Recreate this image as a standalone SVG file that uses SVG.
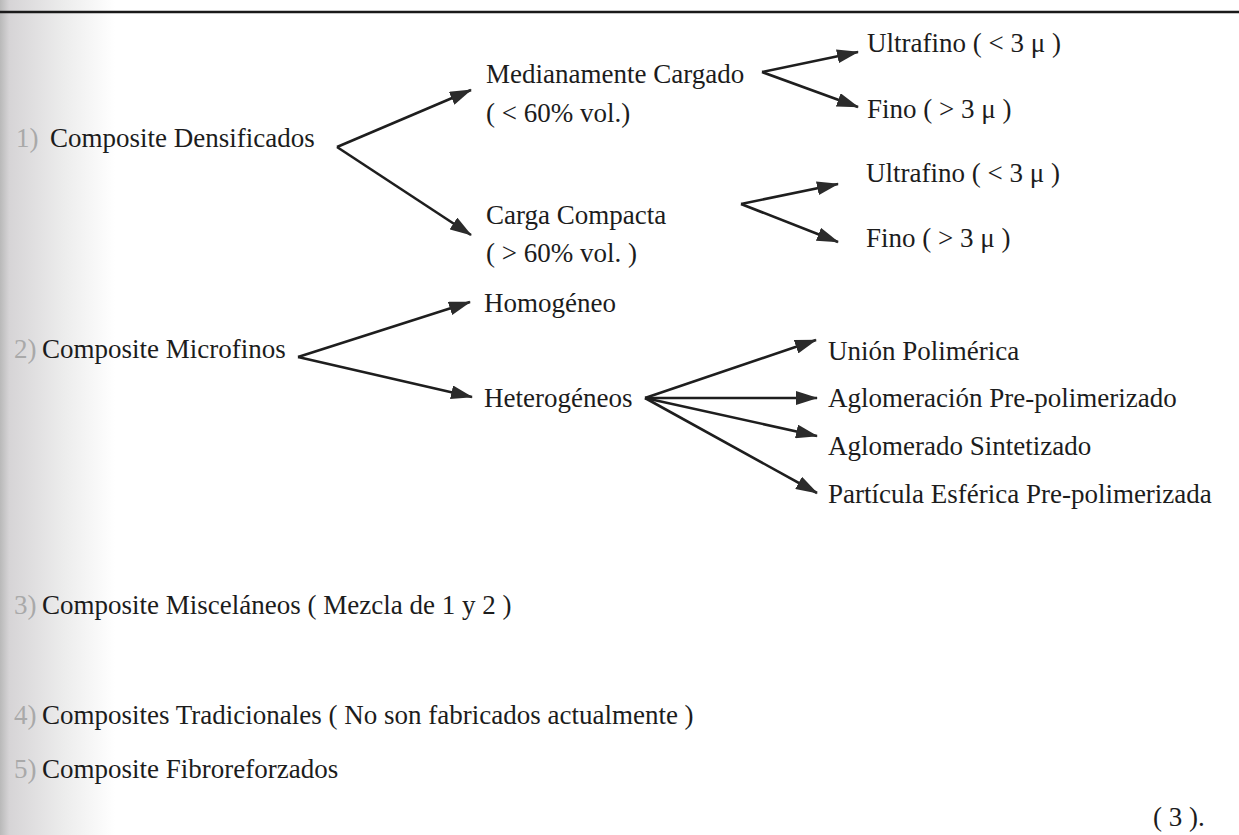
<svg xmlns="http://www.w3.org/2000/svg" width="1239" height="835" viewBox="0 0 1239 835">
<defs>
<linearGradient id="shade" x1="0" y1="0" x2="1" y2="0">
<stop offset="0" stop-color="#b9b9b9"/>
<stop offset="0.08" stop-color="#d6d4d6"/>
<stop offset="0.55" stop-color="#ececec"/>
<stop offset="1" stop-color="#ffffff"/>
</linearGradient>
<marker id="ah" markerUnits="userSpaceOnUse" markerWidth="22" markerHeight="14" refX="21" refY="7" orient="auto">
<path d="M0,0 L22,7 L0,14 z" fill="#2b2b2b"/>
</marker>
</defs>
<style>
text{font-family:"Liberation Serif","Times New Roman",serif;font-size:27px;fill:#1c1c1c}
.num{fill:#a9a9a9}
.c line{stroke:#1e1e1e;stroke-width:2.6;marker-end:url(#ah)}
</style>
<rect x="0" y="0" width="1239" height="835" fill="#ffffff"/>
<rect x="0" y="0" width="115" height="835" fill="url(#shade)"/>
<line x1="0" y1="12" x2="1239" y2="12" stroke="#1a1a1a" stroke-width="2.5"/>

<g id="n-densificados"><text class="num" x="16" y="147">1)</text><text x="50" y="147">Composite Densificados</text></g>
<g id="n-medianamente"><text x="486" y="83">Medianamente Cargado</text><text x="486" y="122">( &lt; 60% vol.)</text></g>
<g id="n-carga"><text x="486" y="224">Carga Compacta</text><text x="486" y="262">( &gt; 60% vol. )</text></g>
<g id="n-ultrafino1"><text x="867" y="52">Ultrafino ( &lt; 3 μ )</text></g>
<g id="n-fino1"><text x="867" y="118">Fino ( &gt; 3 μ )</text></g>
<g id="n-ultrafino2"><text x="866" y="182">Ultrafino ( &lt; 3 μ )</text></g>
<g id="n-fino2"><text x="866" y="247">Fino ( &gt; 3 μ )</text></g>
<g id="n-microfinos"><text class="num" x="14" y="358">2)</text><text x="42" y="358">Composite Microfinos</text></g>
<g id="n-homogeneo"><text x="484" y="312">Homogéneo</text></g>
<g id="n-heterogeneos"><text x="484" y="407">Heterogéneos</text></g>
<g id="n-union"><text x="828" y="360">Unión Polimérica</text></g>
<g id="n-aglomeracion"><text x="828" y="407">Aglomeración Pre-polimerizado</text></g>
<g id="n-aglomerado"><text x="828" y="455">Aglomerado Sintetizado</text></g>
<g id="n-particula"><text x="828" y="503">Partícula Esférica Pre-polimerizada</text></g>
<g id="n-miscelaneos"><text class="num" x="14" y="614">3)</text><text x="42" y="614">Composite Misceláneos ( Mezcla de 1 y 2 )</text></g>
<g id="n-tradicionales"><text class="num" x="14" y="724">4)</text><text x="42" y="724">Composites Tradicionales ( No son fabricados actualmente )</text></g>
<g id="n-fibro"><text class="num" x="14" y="778">5)</text><text x="42" y="778">Composite Fibroreforzados</text></g>
<g id="n-ref"><text x="1153" y="826">( 3 ).</text></g>

<g id="connectors" class="c">
<line x1="337" y1="147" x2="471" y2="90"/>
<line x1="337" y1="147" x2="471" y2="235"/>
<line x1="762" y1="72" x2="858" y2="52"/>
<line x1="762" y1="72" x2="858" y2="107"/>
<line x1="741" y1="204" x2="838" y2="184"/>
<line x1="741" y1="204" x2="838" y2="242"/>
<line x1="298" y1="357" x2="470" y2="302"/>
<line x1="298" y1="357" x2="472" y2="397"/>
<line x1="645" y1="398" x2="816" y2="340"/>
<line x1="645" y1="398" x2="817" y2="398"/>
<line x1="645" y1="398" x2="817" y2="436"/>
<line x1="645" y1="398" x2="817" y2="493"/>
</g>
</svg>
